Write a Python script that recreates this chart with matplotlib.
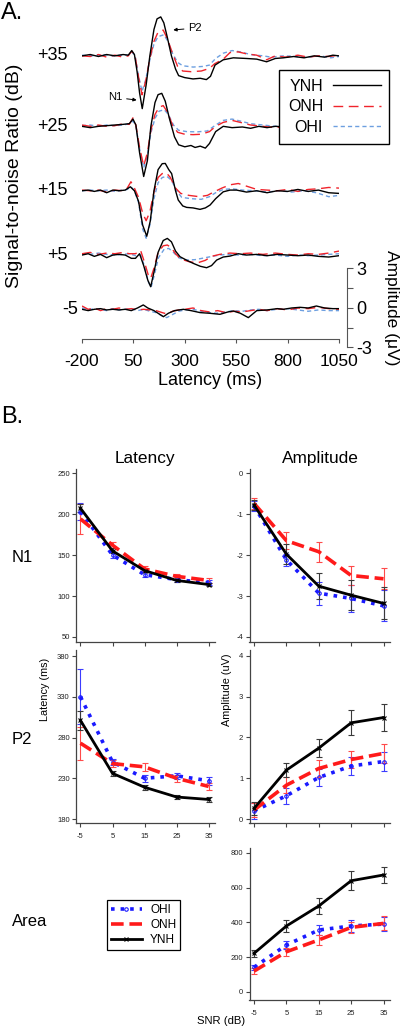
import matplotlib
matplotlib.use('Agg')
import matplotlib.pyplot as plt
from matplotlib.lines import Line2D

plt.rcParams['font.family'] = ['Liberation Sans', 'DejaVu Sans']
plt.rcParams['axes.unicode_minus'] = False

W, H = 400, 1028

# ---------------- A. grand-average waveforms: (latency ms, amplitude uV) ----------------
snr_labels = ['+35', '+25', '+15', '+5', '-5']
erp_ticks = [-200, 50, 300, 550, 800, 1050]

erp_p35 = {
    'YNH': [(-200, 0), (-160, 0.1), (-120, -0.05), (-80, 0.1), (-40, 0), (0, 0.1), (25, 0.05), (42, 0.4),
            (55, 0.1), (68, -1.2), (80, -2.8), (93, -4.0), (112, -2.2), (130, 0.0), (150, 2.0), (165, 2.8),
            (183, 2.95), (198, 2.5), (215, 1.4), (235, 0.0), (255, -1.0), (270, -1.5), (300, -1.65),
            (340, -1.75), (375, -1.7), (405, -1.8), (425, -1.55), (447, -0.7), (487, -0.3), (536, -0.15),
            (600, -0.2), (650, -0.25), (698, -0.45), (740, -0.2), (779, -0.15), (830, -0.05), (880, -0.15),
            (930, 0), (980, -0.1), (1020, 0.05), (1050, 0)],
    'ONH': [(-200, 0), (-160, -0.05), (-120, 0.1), (-80, -0.1), (-40, 0.05), (0, -0.1), (25, 0), (42, 0.35),
            (58, 0.0), (75, -1.6), (92, -2.95), (110, -1.9), (130, -0.2), (150, 1.1), (170, 1.8), (195, 1.95),
            (215, 1.3), (240, 0.2), (265, -0.8), (290, -1.15), (330, -1.2), (380, -1.15), (420, -0.95),
            (445, -0.6), (487, -0.25), (520, 0.25), (560, 0.3), (600, 0.15), (650, 0.05), (698, -0.3),
            (740, 0), (790, -0.1), (850, 0.05), (900, -0.1), (950, 0), (1000, -0.05), (1050, 0.05)],
    'OHI': [(-200, 0.05), (-150, 0), (-100, 0.1), (-50, 0), (0, 0.05), (25, 0.05), (42, 0.3), (58, 0.0),
            (75, -1.5), (92, -2.7), (110, -1.8), (130, -0.3), (150, 0.9), (170, 1.45), (198, 1.6), (218, 1.1),
            (240, 0.2), (265, -0.5), (290, -0.75), (340, -0.85), (390, -0.8), (420, -0.7), (450, -0.2),
            (487, 0.2), (530, 0.4), (570, 0.3), (620, 0.1), (680, 0), (720, -0.1), (780, 0), (840, -0.05),
            (900, -0.1), (960, 0), (1010, -0.15), (1050, -0.05)],
}
erp_p25 = {
    'YNH': [(-200, 0), (-160, -0.1), (-120, 0), (-80, 0.05), (-40, 0.1), (0, 0.15), (30, 0.2), (48, 0.55),
            (62, 0.1), (80, -2.0), (100, -3.8), (118, -2.6), (135, 0.0), (155, 1.8), (170, 2.4), (188, 2.5),
            (205, 1.9), (225, 0.6), (250, -0.8), (270, -1.4), (300, -1.55), (330, -1.45), (350, -1.6),
            (375, -1.5), (400, -1.65), (420, -1.3), (450, -0.4), (487, 0.0), (530, -0.1), (580, -0.05),
            (620, -0.15), (660, 0.0), (700, -0.1), (740, 0), (800, -0.05), (1050, 0)],
    'ONH': [(-200, 0.1), (-160, 0), (-120, 0.1), (-80, 0), (-40, 0.05), (0, 0.2), (30, 0.15), (48, 0.65),
            (62, 0.1), (80, -1.6), (100, -3.0), (118, -2.0), (135, -0.3), (155, 0.9), (175, 1.45), (195, 1.57),
            (215, 1.1), (240, 0.1), (265, -0.45), (300, -0.6), (340, -0.63), (380, -0.6), (420, -0.4),
            (450, 0.0), (487, 0.3), (530, 0.45), (570, 0.3), (620, 0.1), (680, 0.0), (740, -0.1), (800, 0),
            (1050, 0)],
    'OHI': [(-200, 0.05), (-160, 0.1), (-120, 0), (-80, 0.1), (-40, 0.05), (0, 0.1), (30, 0.2), (48, 0.4),
            (62, 0.05), (80, -1.7), (100, -3.15), (118, -2.2), (135, -0.5), (155, 0.6), (175, 1.15),
            (200, 1.26), (220, 0.9), (245, 0.1), (270, -0.3), (310, -0.4), (360, -0.42), (410, -0.35),
            (450, 0.1), (487, 0.45), (530, 0.55), (570, 0.4), (620, 0.2), (680, 0.1), (740, 0), (800, 0.05),
            (1050, 0)],
}
erp_p15 = {
    'YNH': [(-200, 0), (-170, 0.05), (-140, -0.05), (-110, 0.05), (-80, -0.15), (-50, 0.05), (-20, 0.0),
            (10, 0.05), (35, 0.3), (55, 0.0), (75, -0.8), (95, -2.6), (115, -3.45), (132, -2.3), (150, 0.0),
            (170, 1.6), (190, 2.05), (205, 2.07), (222, 1.6), (236, 1.3), (255, 0.0), (268, -0.7),
            (290, -1.15), (309, -1.26), (340, -1.3), (374, -1.41), (400, -1.3), (423, -1.08), (450, -0.6),
            (487, -0.08), (520, 0.05), (552, 0.05), (600, -0.1), (650, 0.0), (700, -0.15), (750, 0.0),
            (800, -0.05), (850, 0.1), (900, -0.05), (950, 0.05), (1000, -0.15), (1050, -0.2)],
    'ONH': [(-200, 0.05), (-160, 0), (-120, 0.05), (-80, -0.1), (-40, 0.05), (0, 0), (20, 0.2), (38, 0.68),
            (55, 0.2), (75, -0.5), (95, -1.7), (112, -2.27), (130, -1.6), (150, -0.1), (170, 1.0), (190, 1.3),
            (210, 1.36), (230, 1.0), (255, 0.2), (280, -0.2), (320, -0.35), (370, -0.45), (410, -0.35),
            (440, -0.1), (480, 0.2), (520, 0.45), (560, 0.55), (600, 0.35), (650, 0.1), (700, 0.05), (750, 0),
            (800, 0.1), (850, -0.05), (900, 0.1), (950, 0.15), (1000, 0.25), (1050, 0.2)],
    'OHI': [(-200, 0), (-160, 0.05), (-120, 0), (-80, 0.05), (-40, -0.05), (0, 0.05), (20, 0.1), (38, 0.3),
            (55, 0.0), (75, -0.9), (95, -2.9), (112, -3.6), (130, -2.6), (150, -0.6), (170, 0.6), (190, 1.0),
            (212, 1.1), (235, 0.8), (260, 0.0), (285, -0.5), (330, -0.6), (380, -0.65), (420, -0.45),
            (450, -0.15), (487, 0.1), (530, 0.15), (580, 0.05), (640, 0.0), (700, -0.1), (760, 0.0),
            (820, -0.1), (880, 0.0), (940, -0.15), (1000, -0.45), (1050, -0.35)],
}
erp_p5 = {
    'YNH': [(-200, 0), (-170, 0.1), (-140, -0.1), (-110, 0.05), (-80, -0.2), (-50, 0.0), (-20, 0.05),
            (10, 0.0), (40, -0.25), (60, -0.25), (80, 0.1), (100, -0.8), (120, -1.9), (134, -2.4),
            (150, -1.3), (170, 0.2), (195, 1.1), (215, 1.26), (235, 1.0), (255, 0.3), (277, -0.13),
            (310, -0.4), (341, -0.63), (375, -0.85), (406, -0.96), (430, -0.8), (455, -0.38), (487, -0.15),
            (520, -0.08), (560, 0.1), (600, 0.0), (650, 0.05), (700, -0.05), (750, 0.05), (800, 0.0),
            (850, -0.05), (900, 0.0), (950, -0.1), (1000, -0.15), (1050, -0.05)],
    'ONH': [(-200, 0.1), (-160, 0.2), (-120, 0.05), (-80, 0.15), (-40, 0.1), (0, 0.2), (30, 0.1), (60, 0.1),
            (85, 0.35), (105, -0.6), (122, -1.5), (134, -1.77), (150, -1.0), (170, 0.2), (195, 0.7),
            (215, 0.76), (235, 0.55), (255, 0.1), (280, -0.3), (320, -0.5), (360, -0.6), (400, -0.4),
            (430, -0.1), (470, 0.05), (520, 0.15), (570, 0.1), (620, 0.15), (680, 0.05), (740, 0.15),
            (800, 0.05), (850, 0.0), (900, 0.1), (950, 0.05), (1000, 0.15), (1050, 0.3)],
    'OHI': [(-200, 0.1), (-160, 0.05), (-120, 0.15), (-80, 0.05), (-40, 0.0), (0, 0.05), (30, 0.1),
            (60, -0.05), (85, 0.0), (105, -0.9), (122, -2.0), (136, -2.45), (152, -1.5), (172, -0.2),
            (200, 0.45), (222, 0.5), (245, 0.2), (270, -0.2), (300, -0.38), (350, -0.35), (400, -0.2),
            (450, -0.05), (500, 0.05), (560, 0.0), (620, 0.05), (680, -0.05), (740, 0.0), (800, -0.1),
            (850, 0.0), (900, -0.05), (950, 0.0), (1000, 0.05), (1050, 0.1)],
}
erp_m5 = {
    'YNH': [(-200, 0), (-170, -0.1), (-140, 0.0), (-110, 0.05), (-80, -0.05), (-50, 0.0), (-20, -0.05),
            (10, 0.0), (40, -0.1), (70, 0.1), (98, 0.33), (120, 0.1), (150, -0.1), (175, -0.35), (196, -0.56),
            (220, -0.3), (250, -0.1), (293, 0.0), (330, -0.1), (374, -0.25), (420, -0.3), (471, -0.38),
            (510, -0.2), (536, -0.13), (570, -0.3), (609, -0.63), (650, -0.1), (700, -0.05), (750, 0.05),
            (779, 0.0), (820, 0.1), (860, 0.15), (900, 0.1), (940, 0.25), (980, 0.1), (1020, 0.05),
            (1050, 0.05)],
    'ONH': [(-200, 0.25), (-170, 0.0), (-140, 0.1), (-110, -0.1), (-80, 0.05), (-50, 0.0), (-20, 0.1),
            (10, 0.0), (40, 0.05), (70, -0.05), (100, 0.0), (130, -0.05), (160, -0.1), (190, -0.25),
            (212, -0.35), (240, -0.15), (270, -0.05), (300, 0.0), (340, 0.1), (380, -0.1), (420, -0.2),
            (460, -0.1), (500, -0.25), (540, -0.15), (580, -0.2), (620, -0.1), (660, 0.0), (700, -0.1),
            (750, 0.05), (800, -0.05), (850, 0.1), (900, 0.05), (950, 0.15), (1000, 0.05), (1050, 0.0)],
    'OHI': [(-200, 0.1), (-170, -0.05), (-140, 0.05), (-110, 0.0), (-80, -0.1), (-50, 0.05), (-20, -0.05),
            (10, 0.0), (40, 0.05), (70, -0.1), (100, 0.0), (130, -0.15), (160, -0.25), (190, -0.5),
            (212, -0.63), (240, -0.4), (270, -0.15), (300, -0.05), (340, 0.0), (380, -0.15), (420, -0.25),
            (455, -0.3), (500, -0.2), (540, -0.1), (580, -0.15), (620, -0.05), (660, 0.0), (700, -0.1),
            (750, 0.0), (800, 0.05), (850, -0.05), (900, -0.15), (950, -0.05), (1000, -0.1), (1050, -0.1)],
}
erps = [erp_p35, erp_p25, erp_p15, erp_p5, erp_m5]

# ---------------- B. group means +/- SE across SNR ----------------
snr = [-5, 5, 15, 25, 35]
groups = ['OHI', 'ONH', 'YNH']

n1_lat = {'OHI': [203, 150, 126, 120, 116], 'ONH': [194, 162, 133, 124, 119], 'YNH': [207, 155, 131, 119, 114]}
n1_lat_err = {'OHI': [10, 4, 3, 3, 3], 'ONH': [18, 4, 3, 3, 3], 'YNH': [5, 3, 2, 2, 2]}

n1_amp = {'OHI': [-0.80, -2.12, -2.93, -3.06, -3.24], 'ONH': [-0.74, -1.65, -1.92, -2.50, -2.58],
          'YNH': [-0.78, -1.98, -2.76, -2.98, -3.18]}
n1_amp_err = {'OHI': [0.12, 0.15, 0.28, 0.34, 0.38], 'ONH': [0.14, 0.20, 0.24, 0.23, 0.26],
              'YNH': [0.13, 0.25, 0.31, 0.36, 0.39]}

p2_lat = {'OHI': [330, 250, 230, 233, 227], 'ONH': [273, 248, 244, 230, 220], 'YNH': [301, 236, 219, 207, 204]}
p2_lat_err = {'OHI': [34, 4, 4, 4, 5], 'ONH': [20, 4, 5, 4, 4], 'YNH': [12, 3, 3, 3, 3]}

p2_amp = {'OHI': [0.20, 0.57, 1.02, 1.30, 1.41], 'ONH': [0.22, 0.83, 1.24, 1.46, 1.61],
          'YNH': [0.26, 1.20, 1.74, 2.36, 2.49]}
p2_amp_err = {'OHI': [0.20, 0.19, 0.21, 0.22, 0.23], 'ONH': [0.17, 0.20, 0.20, 0.22, 0.23],
              'YNH': [0.16, 0.17, 0.22, 0.31, 0.33]}

area = {'OHI': [142, 270, 356, 379, 390], 'ONH': [120, 231, 299, 371, 394], 'YNH': [222, 379, 494, 639, 672]}
area_err = {'OHI': [15, 22, 29, 32, 40], 'ONH': [15, 23, 27, 32, 40], 'YNH': [22, 33, 45, 54, 48]}


def fbox(x0, y0, x1, y1):
    # pixel box (top-left origin) -> figure fraction rect
    return [x0 / W, 1 - y1 / H, (x1 - x0) / W, (y1 - y0) / H]


def ftext(x, y, s, **kw):
    fig.text(x / W, 1 - y / H, s, **kw)


fig = plt.figure(figsize=(W / 100, H / 100), dpi=100)

# ---------------- panel A ----------------
erp_style = {
    'YNH': dict(color='black', lw=1.0),
    'ONH': dict(color='#f0242c', lw=1.0, dashes=(7, 4)),
    'OHI': dict(color='#6d9fe0', lw=1.0, dashes=(3, 2.2)),
}
offsets = [19.2, 13.86, 8.98, 4.11, 0.0]

axA = fig.add_axes(fbox(82, 0, 339, 339))
for erp, off in zip(erps, offsets):
    for g in ['OHI', 'ONH', 'YNH']:
        t, v = zip(*erp[g])
        axA.plot(t, [a + off for a in v], label=g, **erp_style[g])
axA.set_xlim(-200, 1050)
axA.set_ylim(-2.25, 23.43)
for s in ['left', 'top', 'right']:
    axA.spines[s].set_visible(False)
axA.spines['bottom'].set_color('#555555')
axA.set_yticks([])
axA.set_xticks(erp_ticks)
axA.tick_params(axis='x', direction='out', length=3, colors='#555555', labelcolor='black',
                labelsize=12.5, pad=8)
axA.set_xlabel('Latency (ms)', fontsize=13, labelpad=2)

for lab, off, lx in zip(snr_labels, offsets, [68, 68, 68, 68, 78]):
    ftext(lx, 309.3 - off * 13.2, lab, fontsize=13, ha='right', va='center')

axA.annotate('N1', xy=(66, 15.85), xytext=(-3, 16.05), fontsize=8, ha='right', va='center',
             arrowprops=dict(arrowstyle='-|>', lw=0.7, color='black', mutation_scale=5,
                             shrinkA=1, shrinkB=0))
axA.annotate('P2', xy=(244, 21.16), xytext=(316, 21.3), fontsize=8, ha='left', va='center',
             arrowprops=dict(arrowstyle='-|>', lw=0.7, color='black', mutation_scale=5,
                             shrinkA=1, shrinkB=0))

hA = [Line2D([], [], **erp_style[g]) for g in ['YNH', 'ONH', 'OHI']]
legA = axA.legend(hA, ['YNH', 'ONH', 'OHI'], loc='upper left', bbox_to_anchor=(279 / W, 1 - 70 / H),
                  bbox_transform=fig.transFigure, markerfirst=False, fontsize=11.5, frameon=True,
                  fancybox=False, framealpha=1, edgecolor='black', handlelength=3.0,
                  handletextpad=0.6, labelspacing=0.35, borderpad=0.55, borderaxespad=0)
legA.get_frame().set_linewidth(1.0)

ftext(15, 176, 'Signal-to-noise Ratio (dB)', fontsize=14, rotation=90, ha='center', va='center')
ftext(1, 13, 'A.', fontsize=17, ha='left', va='center')

# amplitude scale bar
axS = fig.add_axes(fbox(300, 268.3, 346.7, 347.3))
axS.set_ylim(-3, 3)
axS.set_xticks([])
for s in ['left', 'top', 'bottom']:
    axS.spines[s].set_visible(False)
axS.patch.set_visible(False)
axS.spines['right'].set_color('#555555')
axS.yaxis.tick_right()
axS.set_yticks([-3, -1.5, 0, 1.5, 3])
axS.set_yticklabels(['-3', '', '0', '', '3'])
axS.tick_params(axis='y', direction='out', length=4, colors='#555555', labelcolor='black',
                labelsize=13, pad=3)
ftext(391, 308, 'Amplitude (\u03bcV)', fontsize=12.5, rotation=270, ha='center', va='center')

# ---------------- panel B ----------------
grp_style = {
    'OHI': dict(color='#1a1aff', lw=2.6, ls=':', marker='o', ms=2.5, mfc='none', mew=0.8),
    'ONH': dict(color='#ff1a1a', lw=2.6, dashes=(3.5, 1.6)),
    'YNH': dict(color='black', lw=2.0, marker='x', ms=2.5, mew=0.8),
}
err_col = {'OHI': '#3c3cff', 'ONH': '#ff4a4a', 'YNH': '#3a3a3a'}

panels = [
    (fbox(76, 469, 215, 642), n1_lat, n1_lat_err, (43.9, 254.9), [50, 100, 150, 200, 250], False),
    (fbox(249.5, 469, 390, 642), n1_amp, n1_amp_err, (-4.122, 0.098), [-4, -3, -2, -1, 0], False),
    (fbox(76, 650, 215, 823), p2_lat, p2_lat_err, (175.1, 387.4), [180, 230, 280, 330, 380], True),
    (fbox(249.5, 650, 390, 823), p2_amp, p2_amp_err, (-0.098, 4.147), [0, 1, 2, 3, 4], False),
    (fbox(249.5, 848, 390, 1000), area, area_err, (-46, 827), [0, 200, 400, 600, 800], True),
]
for rect, vals, errs, ylim, yt, xlab in panels:
    ax = fig.add_axes(rect)
    for g in groups:
        ax.errorbar(snr, vals[g], yerr=errs[g], fmt='none', ecolor=err_col[g],
                    elinewidth=0.8, capsize=2.3, capthick=0.8, zorder=2)
        ax.plot(snr, vals[g], label=g, zorder=3, **grp_style[g])
    ax.set_xlim(-6.4, 37)
    ax.set_ylim(*ylim)
    ax.set_yticks(yt)
    ax.set_xticks(snr)
    if not xlab:
        ax.set_xticklabels([])
    for s in ['top', 'right']:
        ax.spines[s].set_visible(False)
    for s in ['left', 'bottom']:
        ax.spines[s].set_color('#444444')
        ax.spines[s].set_linewidth(0.9)
    ax.tick_params(direction='out', length=3, width=0.8, colors='#444444', labelcolor='#222222',
                   labelsize=5.5, pad=1.5)
    ax.tick_params(axis='x', pad=4)

ftext(45, 689, 'Latency (ms)', fontsize=7.8, rotation=90, ha='center', va='center')
ftext(227, 690, 'Amplitude (uV)', fontsize=7.8, rotation=90, ha='center', va='center')

ftext(145, 458, 'Latency', fontsize=12.4, ha='center', va='center')
ftext(320, 458, 'Amplitude', fontsize=12.4, ha='center', va='center')
ftext(12, 557, 'N1', fontsize=12, ha='left', va='center')
ftext(12, 739, 'P2', fontsize=12, ha='left', va='center')
ftext(12, 922, 'Area', fontsize=12, ha='left', va='center')
ftext(221, 1021, 'SNR (dB)', fontsize=8.1, ha='center', va='center')
ftext(1, 417, 'B.', fontsize=17, ha='left', va='center')

hB = [Line2D([], [], **grp_style[g]) for g in groups]
legB = fig.legend(hB, groups, loc='upper left', bbox_to_anchor=(107 / W, 1 - 900 / H), fontsize=8.5,
                  frameon=True, fancybox=False, framealpha=1, edgecolor='black', handlelength=2.6,
                  handletextpad=0.7, labelspacing=0.25, borderpad=0.35, borderaxespad=0, numpoints=1)
legB.get_frame().set_linewidth(0.9)

fig.savefig('out.png', dpi=100)
